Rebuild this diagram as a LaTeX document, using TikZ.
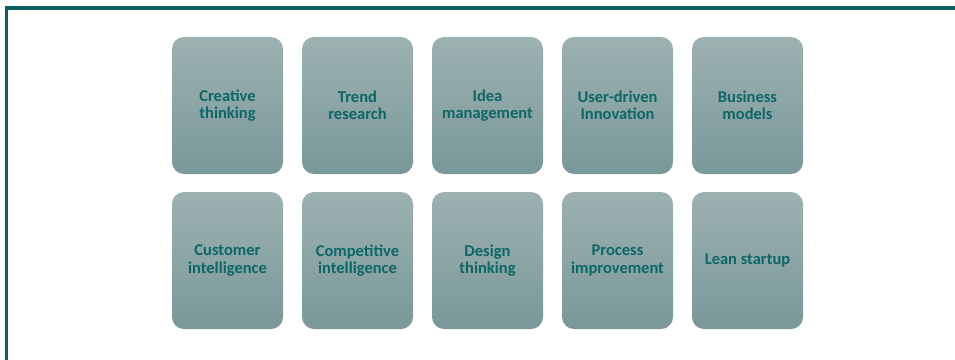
\documentclass[tikz,border=0pt]{standalone}
\usepackage{fontspec}
\setmainfont{Carlito}
\definecolor{frame}{HTML}{0E5F5F}
\definecolor{boxtop}{HTML}{9DB1B1}
\definecolor{boxbot}{HTML}{7A9899}
\definecolor{txt}{HTML}{0C6767}
\begin{document}
\begin{tikzpicture}[x=1pt,y=-1pt,
  card/.style={rounded corners=12pt, minimum width=111pt, minimum height=137pt,
    top color=boxtop, bottom color=boxbot, draw=none, inner sep=0pt,
    text=txt, font=\fontsize{16.5}{17.5}\selectfont\bfseries, align=center}]
\useasboundingbox (0,0) rectangle (955,359);
\fill[white] (0,0) rectangle (955,359);
\draw[frame, line width=3.5pt] (6.5,362) -- (6.5,8) -- (960,8);
\node[card] (c1) at (227.5,105.5) {Creative\\thinking};
\node[card] (c2) at (357.5,105.5) {Trend\\research};
\node[card] (c3) at (487.5,105.5) {Idea\\management};
\node[card] (c4) at (617.5,105.5) {User-driven\\Innovation};
\node[card] (c5) at (747.5,105.5) {Business\\models};
\node[card] (d1) at (227.5,260.5) {Customer\\intelligence};
\node[card] (d2) at (357.5,260.5) {Competitive\\intelligence};
\node[card] (d3) at (487.5,260.5) {Design\\thinking};
\node[card] (d4) at (617.5,260.5) {Process\\improvement};
\node[card] (d5) at (747.5,260.5) {Lean startup};
\end{tikzpicture}
\end{document}
